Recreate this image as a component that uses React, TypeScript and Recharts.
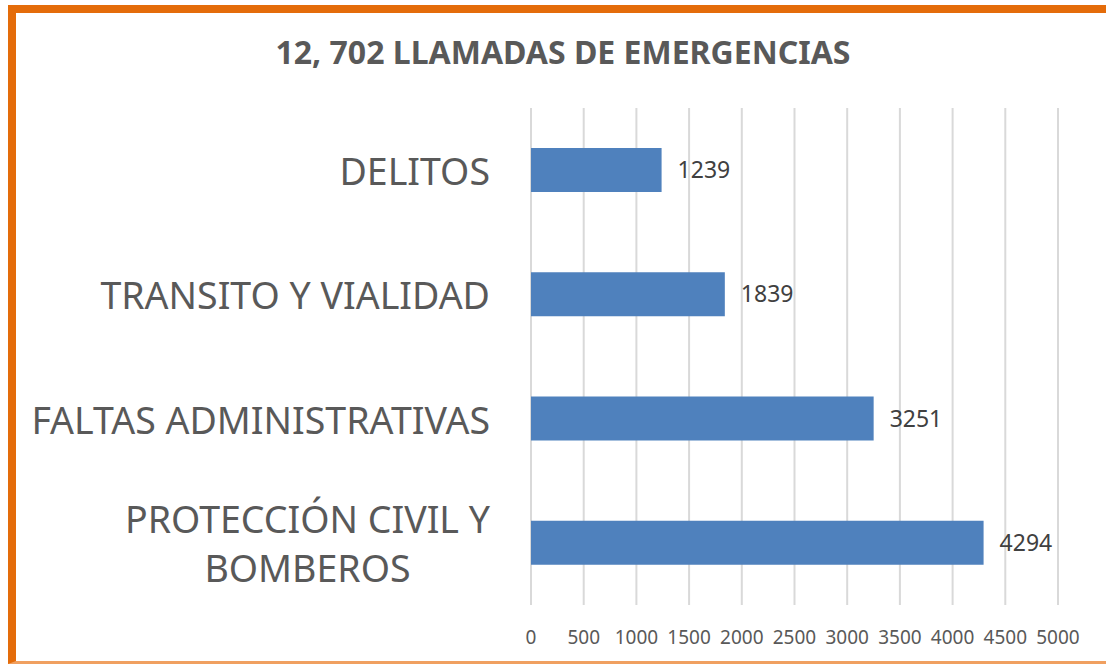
import { BarChart, Bar, XAxis, YAxis, CartesianGrid, LabelList } from "recharts";

const categories = ["DELITOS", "TRANSITO Y VIALIDAD", "FALTAS ADMINISTRATIVAS", "PROTECCIÓN CIVIL Y|BOMBEROS"];
const calls = [1239, 1839, 3251, 4294];
const xTicks = [0, 500, 1000, 1500, 2000, 2500, 3000, 3500, 4000, 4500, 5000];

const data = categories.map((name, i) => ({ name, value: calls[i] }));

const FONT = "'Noto Sans', 'Open Sans', sans-serif";
const CAT_SIZE = 37.5;

function textWidth(s: string) {
  const ctx = document.createElement("canvas").getContext("2d");
  if (!ctx) return s.length * CAT_SIZE * 0.6;
  ctx.font = `${CAT_SIZE}px ${FONT}`;
  return ctx.measureText(s).width;
}

function CategoryTick(props: any) {
  const { x, y, payload } = props;
  const lines: string[] = String(payload.value).split("|");
  const lh = 49;
  const start = y - ((lines.length - 1) * lh) / 2;
  const right = x - 33;
  const multi = lines.length > 1;
  const w = multi ? Math.max(...lines.map(textWidth)) : 0;
  const tx = multi ? right - w / 2 : right;
  return (
    <text x={tx} y={start} textAnchor={multi ? "middle" : "end"} fill="#595959" fontSize={CAT_SIZE} fontFamily={FONT} dominantBaseline="central">
      {lines.map((l, i) => (
        <tspan key={i} x={tx} y={start + i * lh}>
          {l}
        </tspan>
      ))}
    </text>
  );
}

export default function App() {
  return (
    <div style={{ position: "fixed", left: 0, top: 0, width: 1106, height: 664, overflow: "hidden", background: "#fff" }}>
      <div
        style={{
          position: "absolute",
          left: 8,
          top: 5,
          width: 1110,
          height: 659,
          borderLeft: "8px solid #E46C0A",
          borderTop: "8px solid #E46C0A",
          borderBottom: "3px solid #F0A060",
          boxSizing: "border-box",
        }}
      />
      <div
        style={{
          position: "absolute",
          left: 0,
          width: 1126,
          top: 34,
          textAlign: "center",
          fontFamily: FONT,
          fontWeight: 700,
          fontSize: 32,
          color: "#595959",
          lineHeight: "36px",
        }}
      >
        12, 702 LLAMADAS DE EMERGENCIAS
      </div>
      <div style={{ position: "absolute", left: 0, top: 0 }}>
        <BarChart
          width={1106}
          height={664}
          data={data}
          layout="vertical"
          margin={{ top: 108, right: 48, bottom: 29, left: 0 }}
        >
          <CartesianGrid horizontal={false} stroke="#d9d9d9" strokeWidth={2} />
          <XAxis
            type="number"
            domain={[0, 5000]}
            ticks={xTicks}
            axisLine={false}
            tickLine={false}
            interval={0}
            tick={{ fill: "#595959", fontSize: 19, fontFamily: FONT }}
            tickMargin={20}
          />
          <YAxis type="category" dataKey="name" width={531} axisLine={false} tickLine={false} tick={<CategoryTick />} interval={0} />
          <Bar dataKey="value" fill="#4F81BD" barSize={44} isAnimationActive={false}>
            <LabelList dataKey="value" position="right" offset={16} fill="#404040" fontSize={23} fontFamily={FONT} />
          </Bar>
        </BarChart>
      </div>
    </div>
  );
}
